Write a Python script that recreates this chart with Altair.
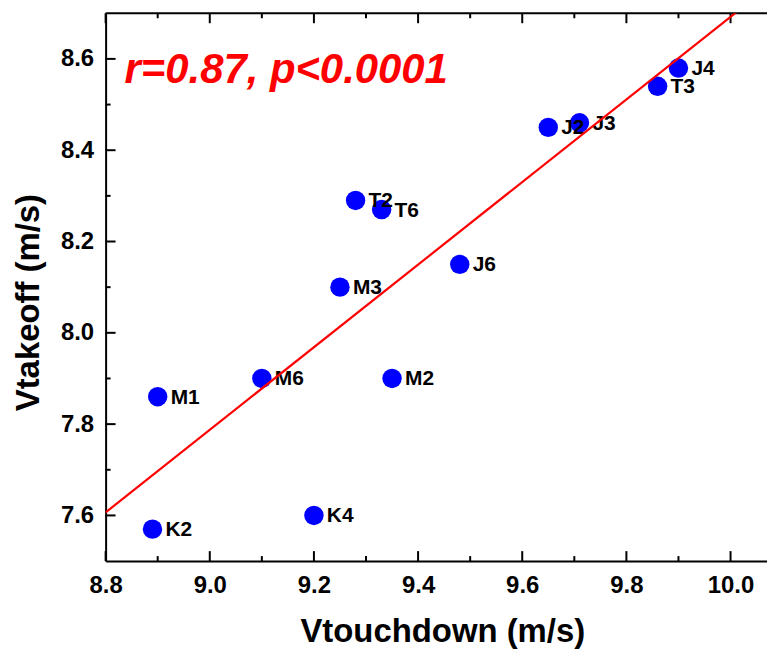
import altair as alt
import pandas as pd

# ---- data ----
names = ["K2", "M1", "M6", "K4", "M3", "T2", "T6", "M2", "J6", "J2", "J3", "T3", "J4"]
vtouchdown = [8.89, 8.90, 9.10, 9.20, 9.25, 9.28, 9.33, 9.35, 9.48, 9.65, 9.71, 9.86, 9.90]
vtakeoff = [7.57, 7.86, 7.90, 7.60, 8.10, 8.29, 8.27, 7.90, 8.15, 8.45, 8.46, 8.54, 8.58]

x_major = [8.8, 9.0, 9.2, 9.4, 9.6, 9.8, 10.0]
x_minor = [8.9, 9.1, 9.3, 9.5, 9.7, 9.9]
y_major = [7.6, 7.8, 8.0, 8.2, 8.4, 8.6]
y_minor = [7.7, 7.9, 8.1, 8.3, 8.5]

x_domain = [8.8, 10.07]
y_domain = [7.5, 8.7]

x_title = "Vtouchdown (m/s)"
y_title = "Vtakeoff (m/s)"
annotation = "r=0.87, p<0.0001"

FONT = "Liberation Sans"
W, H = 664, 550
MAJOR, MINOR = 10, 5

df = pd.DataFrame({"name": names, "x": vtouchdown, "y": vtakeoff})

xs = alt.Scale(domain=x_domain, nice=False, zero=False)
ys = alt.Scale(domain=y_domain, nice=False, zero=False)

x_axis = alt.Axis(
    values=x_major, format=".1f", title=x_title, ticks=False, grid=False,
    domainColor="black", domainWidth=2,
    labelFont=FONT, labelFontSize=24, labelFontWeight="bold", labelColor="black",
    labelPadding=13, labelFlush=False, labelOverlap=False,
    titleFont=FONT, titleFontSize=33, titleFontWeight="bold", titleColor="black",
    titleX=338, titleY=71, titleBaseline="middle", titleAlign="center",
)
y_axis = alt.Axis(
    values=y_major, format=".1f", title=y_title, ticks=False, grid=False,
    domainColor="black", domainWidth=2,
    labelFont=FONT, labelFontSize=24, labelFontWeight="bold", labelColor="black",
    labelPadding=12, labelFlush=False, labelOverlap=False,
    titleFont=FONT, titleFontSize=33, titleFontWeight="bold", titleColor="black",
    titleX=-77, titleY=290, titleAngle=270, titleBaseline="middle", titleAlign="center",
)


def X(field):
    return alt.X(field, scale=xs, axis=x_axis)


def Y(field):
    return alt.Y(field, scale=ys, axis=y_axis)


base = alt.Chart(df)

points = base.mark_circle(size=380, color="#0000FF", opacity=1).encode(
    x=X("x:Q"), y=Y("y:Q"),
)

labels = base.mark_text(
    align="left", baseline="middle", dx=13, dy=1,
    font=FONT, fontSize=21, fontWeight="bold", color="black",
).encode(x=X("x:Q"), y=Y("y:Q"), text="name:N")

reg = base.transform_regression("x", "y", extent=x_domain).mark_line(
    color="#FF0000", strokeWidth=2.2, clip=True
).encode(x=X("x:Q"), y=Y("y:Q"))


def xticks(vals, length, top):
    d = pd.DataFrame({"x": vals})
    if top:
        yv, y2v = alt.value(0), alt.value(length)
    else:
        yv, y2v = alt.value(H), alt.value(H - length)
    return alt.Chart(d).mark_rule(color="black", strokeWidth=2).encode(
        x=X("x:Q"), y=yv, y2=y2v
    )


def yticks(vals, length):
    d = pd.DataFrame({"y": vals})
    return alt.Chart(d).mark_rule(color="black", strokeWidth=2).encode(
        y=Y("y:Q"), x=alt.value(0), x2=alt.value(length)
    )


top_frame = alt.Chart(pd.DataFrame({"t": [0]})).mark_rule(color="black", strokeWidth=2).encode(
    x=alt.value(0), x2=alt.value(W), y=alt.value(0)
)

note = alt.Chart(pd.DataFrame({"t": [annotation]})).mark_text(
    align="left", baseline="alphabetic", font=FONT, fontSize=42,
    fontWeight="bold", fontStyle="italic", color="#FF0000",
).encode(x=alt.value(19), y=alt.value(70), text="t:N")

chart = alt.layer(
    points,
    xticks(x_major, MAJOR, False), xticks(x_minor, MINOR, False),
    xticks(x_major, MAJOR, True), xticks(x_minor, MINOR, True),
    yticks(y_major, MAJOR), yticks(y_minor, MINOR),
    top_frame, labels, reg, note,
).properties(
    width=W, height=H,
    autosize=alt.AutoSizeParams(type="none"),
    padding={"left": 98, "top": 4, "right": 0, "bottom": 88},
).configure_view(stroke=None)

chart.save("out.html", embed_options={"renderer": "svg", "actions": False})
